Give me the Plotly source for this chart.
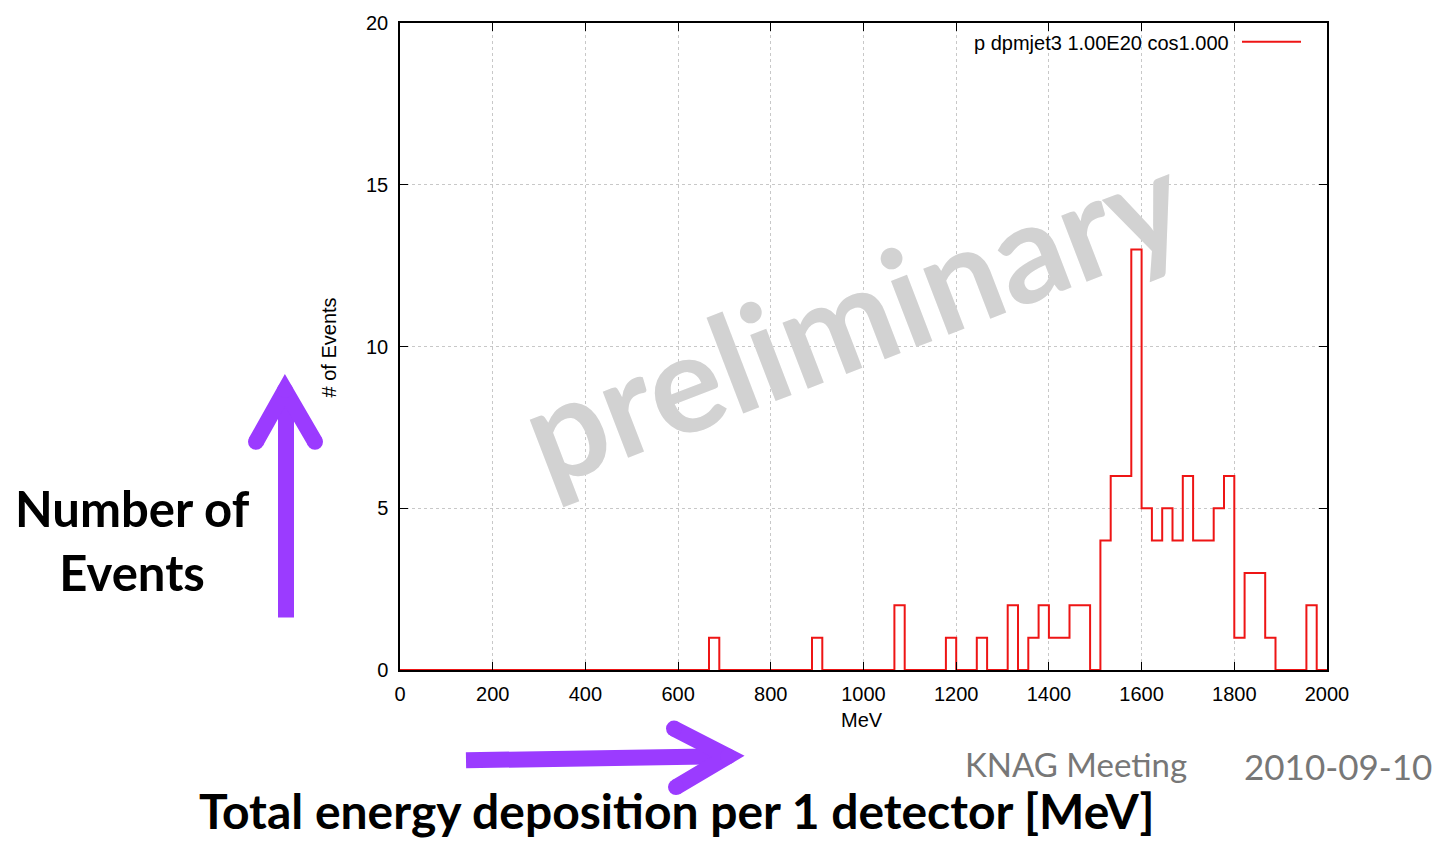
import numpy as np
import plotly.graph_objects as go

# ---------------- data ----------------
x_min = 0
x_max = 2000
n_bins = 90
# counts per bin (bin width = 2000/90 MeV)
counts = [0, 0, 0, 0, 0, 0, 0, 0, 0, 0,
          0, 0, 0, 0, 0, 0, 0, 0, 0, 0,
          0, 0, 0, 0, 0, 0, 0, 0, 0, 0,
          1, 0, 0, 0, 0, 0, 0, 0, 0, 0,
          1, 0, 0, 0, 0, 0, 0, 0, 2, 0,
          0, 0, 0, 1, 0, 0, 1, 0, 0, 2,
          0, 1, 2, 1, 1, 2, 2, 0, 4, 6,
          6, 13, 5, 4, 5, 4, 6, 4, 4, 5,
          6, 1, 3, 3, 1, 0, 0, 0, 2, 0]
series_name = "p dpmjet3 1.00E20 cos1.000"
x_ticks = [0, 200, 400, 600, 800, 1000, 1200, 1400, 1600, 1800, 2000]
y_ticks = [0, 5, 10, 15, 20]

edges = np.linspace(x_min, x_max, n_bins + 1)
y_step = list(counts) + [counts[-1]]

# ---------------- layout geometry (pixels) ----------------
W, H = 1439, 842
L, R, T, B = 400, 1327, 18, 670


def px(X):
    return (X - L) / (R - L)


def py(Y):
    return (B - Y) / (B - T)


fig = go.Figure()
fig.add_trace(go.Scatter(
    x=edges, y=y_step, mode="lines", line=dict(shape="hv", color="#ee1515", width=2),
    name=series_name, showlegend=False, hoverinfo="skip"))

PLOT_FONT = "Liberation Sans, Arial, sans-serif"
SLIDE_FONT = "Lato, Noto Sans, sans-serif"

axis_common = dict(
    showline=True, linecolor="black", linewidth=1.5, mirror="ticks",
    ticks="inside", ticklen=8, tickwidth=1.2, tickcolor="black",
    showgrid=True, gridcolor="#c8c8c8", griddash="dot", gridwidth=1,
    zeroline=False, tickfont=dict(family=PLOT_FONT, size=20, color="black"),
)
fig.update_xaxes(range=[x_min, x_max], tickvals=x_ticks, ticklabelstandoff=5, **axis_common)
fig.update_yaxes(range=[0, 20], tickvals=y_ticks, ticklabelstandoff=6, **axis_common)

annotations = [
    # axis titles
    dict(x=px(862), y=py(720), text="MeV", font=dict(family=PLOT_FONT, size=20, color="black")),
    dict(x=px(329), y=py(345), text="# of Events", textangle=-90,
         font=dict(family=PLOT_FONT, size=20, color="black")),
    # legend text
    dict(x=px(1231), y=py(38), text=series_name, xanchor="right",
         font=dict(family=PLOT_FONT, size=20, color="black")),
    # watermark
    dict(x=px(852), y=py(312), text="<b>preliminary</b>", textangle=-21,
         font=dict(family=SLIDE_FONT, size=138, color="#d2d2d2")),
    # slide texts
    dict(x=px(132), y=py(539), text="<b>Number of<br>Events</b>",
         font=dict(family=SLIDE_FONT, size=49, color="black"), align="center"),
    dict(x=px(677), y=py(842), yanchor="bottom",
         text="<b>Total energy deposition per 1 detector [MeV]</b>",
         font=dict(family=SLIDE_FONT, size=48, color="black")),
    dict(x=px(1076), y=py(765), text="KNAG Meeting",
         font=dict(family=SLIDE_FONT, size=33, color="#777777")),
    dict(x=px(1338), y=py(767), text="2010-09-10",
         font=dict(family=SLIDE_FONT, size=35, color="#777777")),
]
for a in annotations:
    a.setdefault("xref", "paper")
    a.setdefault("yref", "paper")
    a.setdefault("showarrow", False)
    a.setdefault("xanchor", "center")
    a.setdefault("yanchor", "middle")

PURPLE = "#9b3bff"


def seg(x0, y0, x1, y1, w=16, color=PURPLE):
    return dict(type="line", xref="paper", yref="paper",
                x0=px(x0), y0=py(y0), x1=px(x1), y1=py(y1),
                line=dict(color=color, width=w))


def dot(xc, yc, r=8, color=PURPLE):
    return dict(type="circle", xref="paper", yref="paper",
                x0=px(xc - r), x1=px(xc + r), y0=py(yc + r), y1=py(yc - r),
                fillcolor=color, line=dict(width=0))


def chevron(pts, w=16, color=PURPLE):
    path = "M " + " L ".join(f"{px(a):.5f},{py(b):.5f}" for a, b in pts)
    return dict(type="path", xref="paper", yref="paper", path=path,
                line=dict(color=color, width=w))


shapes = [
    # legend sample line
    seg(1242, 37, 1301, 37, w=2, color="#ee1515"),
    # up arrow
    seg(286, 617, 286, 392),
    chevron([(256, 440), (285, 388), (315, 440)]),
    dot(256, 440), dot(315, 440), dot(285, 388),
    # right arrow
    seg(466, 761, 722, 757),
    chevron([(674, 729), (728, 757), (676, 788)]),
    dot(674, 729), dot(676, 788), dot(728, 757),
]

fig.update_layout(
    width=W, height=H,
    margin=dict(l=L, r=W - R, t=T, b=H - B),
    paper_bgcolor="white", plot_bgcolor="white",
    annotations=annotations, shapes=shapes,
    showlegend=False,
)

fig.write_html(
    "out.html",
    config={"displayModeBar": False},
    post_script="document.body.style.margin='0';document.body.style.overflow='hidden';",
)
